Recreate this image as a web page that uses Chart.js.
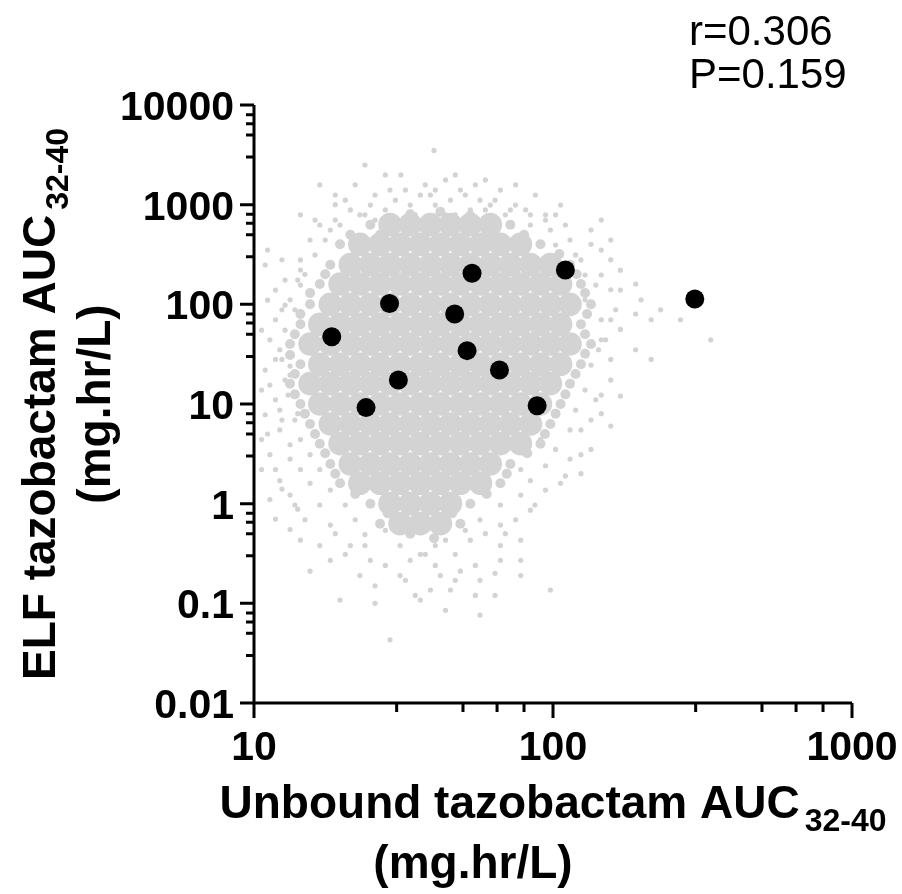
<!DOCTYPE html>
<html>
<head>
<meta charset="utf-8">
<script src="https://cdn.jsdelivr.net/npm/chart.js@4.4.0/dist/chart.umd.min.js"></script>
<style>
  html, body { margin: 0; padding: 0; background: #fff; }
  #wrap { width: 902px; height: 894px; }
</style>
</head>
<body>
<div id="wrap"><canvas id="scatterChart" width="902" height="894"></canvas></div>
<script>
// pacientes (puntos negros)
const patientX = [18.2, 23.7, 28.4, 30.4, 46.9, 51.6, 53.6, 66.2, 88.5, 110, 298];
const patientY = [47.3, 9.2, 102, 17.4, 80, 34.3, 205, 21.9, 9.6, 221, 113];

// nube simulada: zona densa, por filas (valor y -> valores x)
const cloudCoreY = [630, 400, 250, 160, 100, 63, 40, 25, 16, 10, 6.3, 4, 2.5, 1.6, 1, 0.63];
const cloudCoreX = [
  [28.5, 33.3, 38.9, 45.4, 52.9, 61.7],
  [22.6, 26.4, 30.8, 36, 42, 49, 57.2, 66.7, 77.8],
  [21, 24.5, 28.5, 33.3, 38.9, 45.4, 52.9, 61.7, 72, 84.1, 98],
  [19.4, 22.6, 26.4, 30.8, 36, 42, 49, 57.2, 66.7, 77.8, 90.8, 106],
  [18, 21, 24.5, 28.5, 33.3, 38.9, 45.4, 52.9, 61.7, 72, 84.1, 98, 114],
  [16.6, 19.4, 22.6, 26.4, 30.8, 36, 42, 49, 57.2, 66.7, 77.8, 90.8, 106],
  [15.4, 18, 21, 24.5, 28.5, 33.3, 38.9, 45.4, 52.9, 61.7, 72, 84.1, 98, 114],
  [16.6, 19.4, 22.6, 26.4, 30.8, 36, 42, 49, 57.2, 66.7, 77.8, 90.8, 106],
  [15.4, 18, 21, 24.5, 28.5, 33.3, 38.9, 45.4, 52.9, 61.7, 72, 84.1, 98],
  [16.6, 19.4, 22.6, 26.4, 30.8, 36, 42, 49, 57.2, 66.7, 77.8, 90.8],
  [18, 21, 24.5, 28.5, 33.3, 38.9, 45.4, 52.9, 61.7, 72, 84.1],
  [19.4, 22.6, 26.4, 30.8, 36, 42, 49, 57.2, 66.7, 77.8],
  [21, 24.5, 28.5, 33.3, 38.9, 45.4, 52.9, 61.7],
  [22.6, 26.4, 30.8, 36, 42, 49, 57.2],
  [28.5, 33.3, 38.9, 45.4],
  [30.8, 36, 42]
];

// nube simulada: franja intermedia alrededor de la zona densa
const cloudRing = [
  [24.5, 630], [19.4, 400], [18, 250], [16.6, 160], [15.4, 100], [14.3, 63], [13.2, 40],
  [14.3, 25], [13.2, 16], [14.3, 10], [15.4, 6.3], [16.6, 4], [18, 2.5], [19.4, 1.6],
  [24.5, 1], [26.4, 0.63],
  [72, 630], [90.8, 400], [114, 250], [124, 160], [134, 100], [124, 63], [134, 40],
  [124, 25], [114, 16], [106, 10], [98, 6.3], [90.8, 4], [72, 2.5], [66.7, 1.6],
  [52.9, 1], [49, 0.63],
  [33.3, 800], [42, 850], [52.9, 780], [26.4, 500], [61.7, 520], [33.3, 0.5], [40, 0.45],
  [28, 0.8], [46, 0.8],
  [21, 500], [17.3, 200], [15.4, 130], [14.3, 80], [13.7, 50], [13.2, 31], [13.7, 20],
  [13.7, 12.5], [14.8, 8], [16, 5], [17.3, 3.2], [18.7, 2], [21.8, 1.25],
  [80, 500], [105, 320], [120, 200], [128, 130], [130, 80], [128, 50], [128, 32],
  [119, 20], [110, 12.5], [102, 8], [94, 5], [82, 3.2], [70, 2], [60, 1.25]
];

// nube simulada: puntos sueltos en los bordes
const cloudEdge = [
  [40, 3500], [23.5, 2500], [75, 1580], [16.6, 1580], [28.5, 1400], [49, 1400], [20.2, 1110],
  [36, 1250], [57, 1110], [106, 990], [14.3, 790], [84, 790], [145, 700], [66.7, 1400],
  [43.7, 1770], [31, 1990], [18.7, 1250], [25.4, 1250], [47.1, 790], [64, 700], [94.4, 790],
  [110, 625], [16, 700], [134, 557], [156, 442],
  [134, 400], [156, 280], [168, 139], [197, 111], [229, 88], [337, 44], [267, 70], [145, 44],
  [156, 17.4], [139, 11], [124, 5.5], [114, 2.8], [106, 1.6], [128, 111], [145, 197],
  [114, 442], [124, 279], [128, 197], [162, 88], [150, 44], [145, 12.3], [134, 6.9],
  [124, 3.1], [110, 1.9], [94.4, 1.37], [87, 0.97], [75, 0.69],
  [28.5, 0.043], [57, 0.076], [98, 0.136], [38.9, 0.136], [19.4, 0.108], [15.4, 0.21],
  [49, 0.21], [30.8, 0.19], [24.5, 0.27], [66.7, 0.27], [21, 0.38], [78, 0.43], [36, 0.31],
  [14.3, 0.43], [52.9, 0.43], [18, 0.61], [66.7, 0.61], [84, 0.86], [16.6, 0.97], [13.2, 1.22],
  [78, 0.27], [45.4, 0.136], [36, 0.108], [22.6, 0.19], [18, 0.27], [16.6, 0.38], [14.8, 0.69],
  [13.7, 0.97], [78, 0.19], [64, 0.12],
  [12.2, 1.7], [14.3, 2.2], [11.3, 3.1], [10.6, 4.4], [12.2, 5.5], [10.9, 7.8], [11.8, 11],
  [12.7, 17.4], [10.9, 21.9], [12.2, 35], [11.8, 70], [13.2, 111], [10.9, 248], [12.7, 175],
  [14.3, 279], [15.4, 442], [16.6, 625], [18, 557], [11.3, 1.1], [11.8, 2.2], [13.2, 3.9],
  [12.2, 8.7], [11.3, 15.5], [13.2, 19.5], [11.3, 44], [12.7, 98], [14.3, 221], [11.8, 139],
  [21, 885], [24.5, 990], [33.3, 990], [45.4, 1110], [61.7, 990], [72, 885], [84, 625],
  [19.4, 625], [22.6, 790], [38.9, 1250], [52.9, 885], [98, 557], [102, 394], [17.3, 442],
  [16, 313], [119, 313], [139, 156], [14.3, 156], [13.7, 88], [12.7, 55], [145, 70],
  [142, 35], [12.4, 28], [134, 24.6], [13, 12.3], [128, 13.8], [119, 8.7], [13.7, 6.9],
  [114, 5.5], [14.3, 4.4], [102, 3.5], [15.4, 3.1], [94.4, 2.4], [16.6, 2.2], [84, 1.7],
  [18, 1.37], [78, 1.22], [20.2, 0.97], [66.7, 0.97], [21.8, 0.69], [57, 0.69], [23.5, 0.49],
  [43.7, 0.43], [30.8, 0.38], [27.5, 0.54], [49, 0.61], [33.3, 0.27], [42, 0.19], [25.4, 0.15],
  [57, 0.17], [66.7, 0.38], [78, 2.2], [90.8, 4.4],
  // arriba
  [27.5, 1990], [47.1, 1990], [59.4, 1770], [21.8, 1580], [37.4, 1580], [55, 1580],
  [32.1, 1400], [40.4, 1400], [87.3, 1250], [18.7, 1000], [29.7, 1110], [50.9, 1250],
  [64, 1110], [74.9, 990], [40.4, 990], [27.5, 885], [59.4, 885], [81, 885], [23.5, 790],
  [34.6, 790], [43.7, 790], [69.3, 790], [102, 790], [18.7, 700], [94.4, 700], [25.4, 700],
  [37.4, 700], [55, 700],
  // abajo
  [29.7, 0.54], [50.9, 0.54], [59.4, 0.5], [23.5, 0.38], [37.4, 0.31], [47.1, 0.31],
  [55, 0.24], [27.5, 0.24], [40.4, 0.24], [32.1, 0.17], [47.1, 0.17], [64, 0.2], [20.2, 0.31],
  [34.6, 0.12], [55, 0.12], [43.7, 0.085], [25.4, 0.1], [69.3, 0.5], [18.7, 0.5], [40.4, 0.38],
  // izquierda
  [11.1, 350], [12.4, 280], [14, 175], [11.1, 110], [12.4, 88], [14.8, 200], [10.6, 55],
  [11.8, 28], [13.2, 24], [10.6, 13.8], [12.4, 6.9], [14, 8], [11.1, 5], [13.2, 2.8],
  [10.6, 2.2], [12.4, 1.4], [14, 0.88], [11.8, 0.7], [15.4, 1.6], [13.2, 0.55],
  // derecha
  [145, 350], [168, 220], [156, 140], [189, 160], [168, 56], [189, 35], [213, 28], [156, 28],
  [168, 12], [145, 8], [156, 6], [134, 3.5], [124, 2], [213, 70], [189, 80], [156, 70]
];

// ejes
const xTicks = [10, 100, 1000];
const xTickLabels = ['10', '100', '1000'];
const yTicks = [0.01, 0.1, 1, 10, 100, 1000, 10000];
const yTickLabels = ['0.01', '0.1', '1', '10', '100', '1000', '10000'];
const minorSteps = [3, 5, 6.5, 8];

const statLines = ['r=0.306', 'P=0.159'];
const xTitle = ['Unbound tazobactam AUC', '32-40', '(mg.hr/L)'];
const yTitle = ['ELF tazobactam AUC', '32-40', '(mg.hr/L)'];

const FONT = '"Liberation Sans", Arial, Helvetica, sans-serif';
const GRAY = '#d3d3d3';

// armar los puntos
const corePoints = [];
cloudCoreY.forEach((yv, i) => {
  cloudCoreX[i].forEach((xv) => corePoints.push({ x: xv, y: yv }));
});
const ringPoints = cloudRing.map((p) => ({ x: p[0], y: p[1] }));
const edgePoints = cloudEdge.map((p) => ({ x: p[0], y: p[1] }));
const patientPoints = patientX.map((xv, i) => ({ x: xv, y: patientY[i] }));

// texto con subíndice, centrado en cx
function drawSubTitle(ctx, main, sub, cx, base) {
  ctx.font = 'bold 46px ' + FONT;
  const wMain = ctx.measureText(main).width;
  ctx.font = 'bold 32px ' + FONT;
  const wSub = ctx.measureText(sub).width;
  const gap = 5;
  const start = cx - (wMain + gap + wSub) / 2;
  ctx.textAlign = 'left';
  ctx.textBaseline = 'alphabetic';
  ctx.font = 'bold 46px ' + FONT;
  ctx.fillText(main, start, base);
  ctx.font = 'bold 32px ' + FONT;
  ctx.fillText(sub, start + wMain + gap, base + 13);
}

// ejes, marcas y textos dibujados a mano
const axisDecor = {
  id: 'axisDecor',
  afterDatasetsDraw(chart) {
    const { ctx, chartArea: a } = chart;
    const xs = chart.scales.x;
    const ys = chart.scales.y;
    ctx.save();
    ctx.strokeStyle = '#000';
    ctx.fillStyle = '#000';
    ctx.lineWidth = 3;
    ctx.lineCap = 'butt';

    ctx.beginPath();
    ctx.moveTo(a.left, a.top);
    ctx.lineTo(a.left, a.bottom);
    ctx.lineTo(a.right, a.bottom);
    ctx.stroke();

    // marcas eje x
    ctx.beginPath();
    xTicks.forEach((v, i) => {
      const px = xs.getPixelForValue(v);
      ctx.moveTo(px, a.bottom);
      ctx.lineTo(px, a.bottom + 15);
      if (i < xTicks.length - 1) {
        minorSteps.forEach((m) => {
          const mx = xs.getPixelForValue(v * m);
          ctx.moveTo(mx, a.bottom);
          ctx.lineTo(mx, a.bottom + 9);
        });
      }
    });
    ctx.stroke();

    // marcas eje y
    ctx.beginPath();
    yTicks.forEach((v, i) => {
      const py = ys.getPixelForValue(v);
      ctx.moveTo(a.left, py);
      ctx.lineTo(a.left - 14, py);
      if (i < yTicks.length - 1) {
        minorSteps.forEach((m) => {
          const my = ys.getPixelForValue(v * m);
          ctx.moveTo(a.left, my);
          ctx.lineTo(a.left - 8, my);
        });
      }
    });
    ctx.stroke();

    // etiquetas
    ctx.font = 'bold 41px ' + FONT;
    ctx.textBaseline = 'alphabetic';
    ctx.textAlign = 'center';
    xTicks.forEach((v, i) => {
      ctx.fillText(xTickLabels[i], xs.getPixelForValue(v), 760);
    });
    ctx.textAlign = 'right';
    yTicks.forEach((v, i) => {
      ctx.fillText(yTickLabels[i], 234, ys.getPixelForValue(v) + 15);
    });

    // títulos
    const cx = (a.left + a.right) / 2;
    const cy = (a.top + a.bottom) / 2;
    drawSubTitle(ctx, xTitle[0], xTitle[1], cx, 818);
    ctx.font = 'bold 46px ' + FONT;
    ctx.textAlign = 'center';
    ctx.fillText(xTitle[2], cx - 80, 878);

    ctx.save();
    ctx.translate(55, cy);
    ctx.rotate(-Math.PI / 2);
    drawSubTitle(ctx, yTitle[0], yTitle[1], 0, 0);
    ctx.font = 'bold 46px ' + FONT;
    ctx.textAlign = 'center';
    ctx.fillText(yTitle[2], 0, 55);
    ctx.restore();

    // r y P
    ctx.font = '42px ' + FONT;
    ctx.textAlign = 'left';
    ctx.fillText(statLines[0], 689, 45);
    ctx.fillText(statLines[1], 689, 88);
    ctx.restore();
  }
};

const ctx = document.getElementById('scatterChart').getContext('2d');
new Chart(ctx, {
  type: 'scatter',
  data: {
    datasets: [
      {
        label: 'Pacientes',
        data: patientPoints,
        pointRadius: 9.5,
        pointBackgroundColor: '#000',
        pointBorderWidth: 0
      },
      {
        label: 'Simulación bordes',
        data: edgePoints,
        pointRadius: 2.6,
        pointBackgroundColor: GRAY,
        pointBorderWidth: 0
      },
      {
        label: 'Simulación franja',
        data: ringPoints,
        pointRadius: 5,
        pointBackgroundColor: GRAY,
        pointBorderWidth: 0
      },
      {
        label: 'Simulación',
        data: corePoints,
        pointRadius: 11.8,
        pointBackgroundColor: GRAY,
        pointBorderWidth: 0
      }
    ]
  },
  options: {
    responsive: false,
    animation: false,
    layout: { padding: { left: 254, right: 50, top: 105, bottom: 191 } },
    scales: {
      x: { type: 'logarithmic', min: 10, max: 1000, display: false },
      y: { type: 'logarithmic', min: 0.01, max: 10000, display: false }
    },
    plugins: {
      legend: { display: false },
      tooltip: { enabled: false }
    }
  },
  plugins: [axisDecor]
});
</script>
</body>
</html>
